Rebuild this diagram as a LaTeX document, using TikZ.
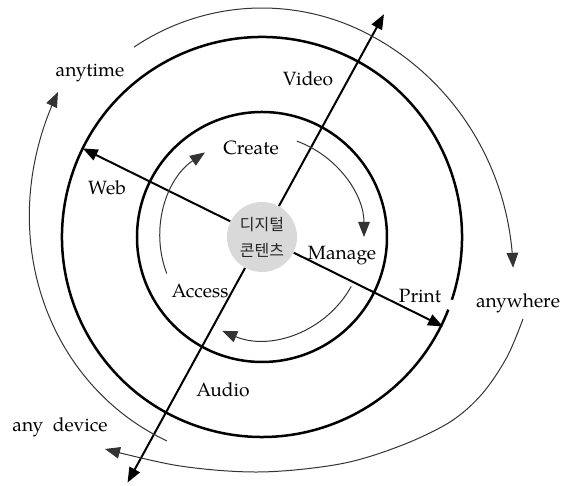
\documentclass[tikz,border=0pt]{standalone}
\usepackage{fontspec}
\setmainfont{TeX Gyre Pagella}
\newfontfamily\kor{Noto Sans CJK KR}
\usetikzlibrary{arrows.meta}

\begin{document}
\begin{tikzpicture}[x=0.5pt,y=0.5pt,
  ring/.style={line width=1.25pt},
  flow/.style={line width=0.5pt, draw=black!80,
    -{Triangle[length=7.5pt,width=5.8pt]}},
  axisline/.style={line width=1pt, -{Triangle[length=7.5pt,width=5.8pt]}},
  lbl/.style={font=\fontsize{9.6}{12}\selectfont, anchor=base, inner sep=0pt},
]
\useasboundingbox (0,0) rectangle (575,486);
\coordinate (C) at (262,249);

% the two rings
\draw[ring] (C) circle[radius=125];
\draw[ring] ([shift={(-18.3:200)}]C) arc[start angle=-18.3, end angle=338.7, radius=200];

% ends of the two axes
\coordinate (videotip) at ([shift={(61.3:254)}]C);
\coordinate (audiotip) at ([shift={(241.3:280)}]C);
\coordinate (webtip)   at ([shift={(153.7:200)}]C);
\coordinate (printtip) at ([shift={(-26.3:202)}]C);

% the core
\node[circle, fill=black!15, minimum size=35pt, inner sep=0pt, text=black!85,
      font=\kor\fontsize{8}{13}\selectfont, align=center] (core) at (C) {디지털\\콘텐츠};

\draw[axisline] (core) -- (videotip);
\draw[axisline] (core) -- (audiotip);
\draw[axisline] (core) -- (webtip);
\draw[axisline] (core) -- (printtip);

% inner cycle
\draw[flow] ([shift={(70:102)}]C) arc[start angle=70, end angle=0, radius=102];
\draw[flow] ([shift={(-29:102)}]C) arc[start angle=-29, end angle=-113, radius=102];
\draw[flow] ([shift={(201:102)}]C) arc[start angle=201, end angle=124, radius=102];

% outer cycle: two widening spirals round the core and one open sweep below
\draw[flow, shift={(C)}] plot[domain=124:-7, samples=80]
  (\x:{229+24*(max(0,(62.8-\x)/69.8))^2});
\draw[flow] plot[smooth, tension=0.55] coordinates
  {(523,167) (507,129) (482,92) (450,64) (400,40) (340,22) (260,14) (180,20) (105,37)};
\draw[flow, shift={(C)}] plot[domain=245:144.6, samples=80]
  (\x:{225+25*((245-\x)/100)^3});

% labels
\node[lbl] (anytime)   at (90,409)  {anytime};
\node[lbl] (video)     at (308,400) {Video};
\node[lbl] (create)    at (251,331) {Create};
\node[lbl] (web)       at (107,291) {Web};
\node[lbl] (manage)    at (342,226) {Manage};
\node[lbl] (print)     at (420,183) {Print};
\node[lbl] (anywhere)  at (518,178) {anywhere};
\node[lbl] (access)    at (200,188) {Access};
\node[lbl] (audio)     at (223,89)  {Audio};
\node[lbl] (anydevice) at (60,54)   {any\hspace{0.5em}device};
\end{tikzpicture}
\end{document}
